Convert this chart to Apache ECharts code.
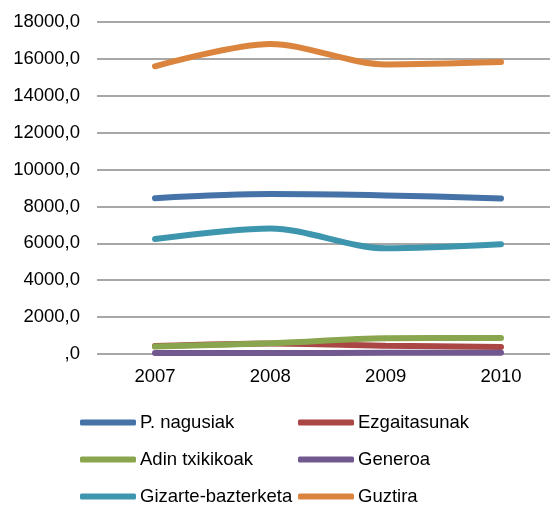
<!DOCTYPE html>
<html>
<head>
<meta charset="utf-8">
<script src="https://cdn.jsdelivr.net/npm/echarts@6/dist/echarts.min.js"></script>
<style>
    html, body { margin: 0; padding: 0; background: #fff; }
    #chart { width: 550px; height: 506px; }
</style>
</head>
<body>
<div id="chart"></div>
<script>
const years = ['2007', '2008', '2009', '2010'];
const seriesNames = ['P. nagusiak', 'Ezgaitasunak', 'Adin txikikoak', 'Generoa', 'Gizarte-bazterketa', 'Guztira'];
const nagusiak = [8450, 8670, 8600, 8430];
const ezgaitasunak = [430, 570, 450, 380];
const adinTxikikoak = [400, 580, 850, 870];
const generoa = [60, 50, 70, 70];
const gizarteBazterketa = [6230, 6810, 5730, 5950];
const guztira = [15600, 16810, 15700, 15830];

const colors = ['#4572A7', '#AA4643', '#89A54E', '#71588F', '#3D96AE', '#DB843D'];
const fontFamily = '"Liberation Sans", Arial, sans-serif';
const yMax = 18000;
const yStep = 2000;

function line(name, data) {
    return {
        name: name,
        type: 'line',
        xAxisIndex: 1,
        yAxisIndex: 1,
        data: data,
        smooth: 0.3,
        symbol: 'none',
        lineStyle: { width: 6, cap: 'round' }
    };
}

// one legend per item so the two columns line up like the original
const legendCols = [80, 298];
const legendRows = [413, 450, 487];
const legends = seriesNames.map(function (name, i) {
    return {
        left: legendCols[i % 2],
        top: legendRows[Math.floor(i / 2)],
        data: [name],
        icon: 'roundRect',
        itemWidth: 56,
        itemHeight: 6,
        selectedMode: false,
        padding: 0,
        textStyle: { fontSize: 18.5, color: '#000', fontFamily: fontFamily, padding: [0, 0, 0, -1] }
    };
});

let myChart = echarts.init(document.getElementById('chart'));
myChart.setOption({
    color: colors,
    animation: false,
    textStyle: { fontFamily: fontFamily },
    // grid 0 carries the gridlines and y labels, grid 1 the series (the last band runs off the picture)
    grid: [
        { left: 97, right: 0, top: 22, height: 332 },
        { left: 155, right: 49, top: 22, height: 332 }
    ],
    legend: legends,
    xAxis: [
        { type: 'category', gridIndex: 0, data: years, show: false },
        {
            type: 'category',
            gridIndex: 1,
            data: years,
            boundaryGap: false,
            axisLine: { show: false },
            axisTick: { show: false },
            splitLine: { show: false },
            axisLabel: { fontSize: 18.5, color: '#000', margin: 13 }
        }
    ],
    yAxis: [
        {
            type: 'value',
            gridIndex: 0,
            min: 0,
            max: yMax,
            interval: yStep,
            axisLine: { show: false },
            axisTick: { show: false },
            axisLabel: {
                fontSize: 18.5,
                color: '#000',
                margin: 17,
                formatter: function (v) { return v === 0 ? ',0' : v + ',0'; }
            },
            splitLine: { lineStyle: { color: '#8a8a8a', width: 1.5 } }
        },
        { type: 'value', gridIndex: 1, min: 0, max: yMax, interval: yStep, show: false, splitLine: { show: false } }
    ],
    series: [
        line(seriesNames[0], nagusiak),
        line(seriesNames[1], ezgaitasunak),
        line(seriesNames[2], adinTxikikoak),
        line(seriesNames[3], generoa),
        line(seriesNames[4], gizarteBazterketa),
        line(seriesNames[5], guztira)
    ]
});
</script>
</body>
</html>
